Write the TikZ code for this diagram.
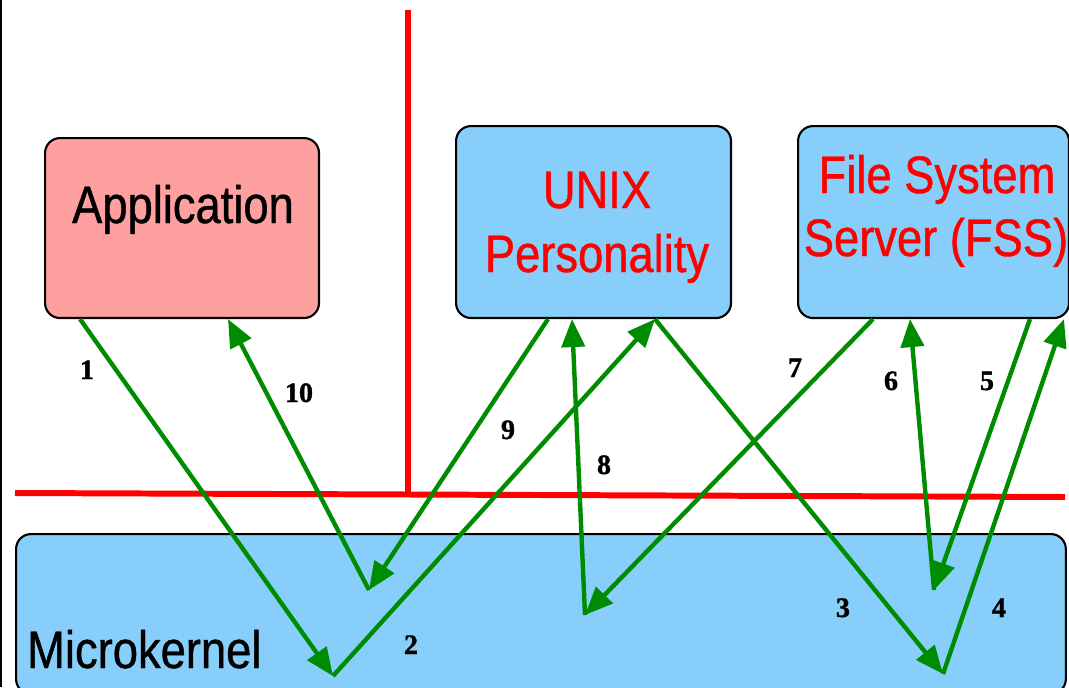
\documentclass[tikz,border=0pt]{standalone}
\usepackage{fontspec}
\setmainfont{Liberation Sans}[FakeStretch=0.86, FakeBold=0.8]
\newfontfamily\numfont{Liberation Serif}[BoldFeatures={FakeBold=1.2}]
\usetikzlibrary{arrows.meta, positioning, calc}

\definecolor{boxblue}{RGB}{135,206,250}
\definecolor{apppink}{RGB}{255,160,160}
\definecolor{msggreen}{RGB}{0,140,0}

\tikzset{
  server/.style={draw=black, line width=1.2pt, rounded corners=0.3cm, fill=boxblue, inner sep=0pt, anchor=north west},
  msg/.style={draw=msggreen, line width=2.5pt, -{Triangle[length=0.56cm, width=0.46cm, fill=msggreen]}},
  border/.style={red, line width=3.4pt},
  num/.style={font=\numfont\bfseries\fontsize{16}{16}\selectfont, anchor=base},
  boxtext/.style={font=\fontsize{30}{36}\selectfont, anchor=base},
}

\begin{document}
\begin{tikzpicture}[x=0.02cm, y=-0.02cm]
  \useasboundingbox (0,0) rectangle (1069,687);
  \clip (0,0) rectangle (1069,687);
  \draw[line width=1pt] (1,0) -- (1,687);

  % boundaries
  \draw[border] (408,10) -- (408,492);
  \draw[border] (15,493) -- (1065,497);

  % boxes
  \node[server, fill=apppink, minimum width=5.48cm, minimum height=3.6cm] (app) at (44,137) {};
  \node[server, minimum width=5.5cm, minimum height=3.84cm] (unix) at (455,125) {};
  \node[server, minimum width=5.42cm, minimum height=3.84cm] (fss) at (797,125) {};
  \node[server, minimum width=21cm, minimum height=3.2cm] (kern) at (15,533) {};

  \node[boxtext] (applbl) at (183,223) {Application};
  \node[boxtext, red] (unixlbl) at (597,208) {UNIX};
  \node[boxtext, red] (perslbl) at (597,272) {Personality};
  \node[boxtext, red] (fsslbl) at (937,193) {File System};
  \node[boxtext, red] (srvlbl) at (936,256) {Server (FSS)};
  \node[boxtext, anchor=base west] (kernlbl) at (21,668) {Microkernel};

  % points inside the kernel
  \coordinate (k1) at (333,676);
  \coordinate (k2) at (369,590);
  \coordinate (k3) at (585,615);
  \coordinate (k4) at (943,674);
  \coordinate (k5) at (934,590);

  % messages
  \draw[msg] ($(app.south west)+(36,0)$) -- (k1);
  \draw[msg] (k1) -- ($(unix.south west)+(200,0)$);
  \draw[msg] ($(unix.south west)+(200,0)$) -- (k4);
  \draw[msg] (k4) -- ($(fss.south west)+(267,0)$);
  \draw[msg] ($(fss.south west)+(233,0)$) -- (k5);
  \draw[msg] (k5) -- ($(fss.south west)+(113,0)$);
  \draw[msg] ($(fss.south west)+(76,0)$) -- (k3);
  \draw[msg] (k3) -- ($(unix.south west)+(117,0)$);
  \draw[msg] ($(unix.south west)+(93,0)$) -- (k2);
  \draw[msg] (k2) -- ($(app.south west)+(184,0)$);

  % step numbers
  \node[num] (n1) at (87,379) {1};
  \node[num] (n2) at (411,654) {2};
  \node[num] (n3) at (843,617) {3};
  \node[num] (n4) at (999,617) {4};
  \node[num] (n5) at (987,390) {5};
  \node[num] (n6) at (891,390) {6};
  \node[num] (n7) at (795,377) {7};
  \node[num] (n8) at (604,474) {8};
  \node[num] (n9) at (508,439) {9};
  \node[num] (n10) at (299,402) {10};
\end{tikzpicture}
\end{document}
